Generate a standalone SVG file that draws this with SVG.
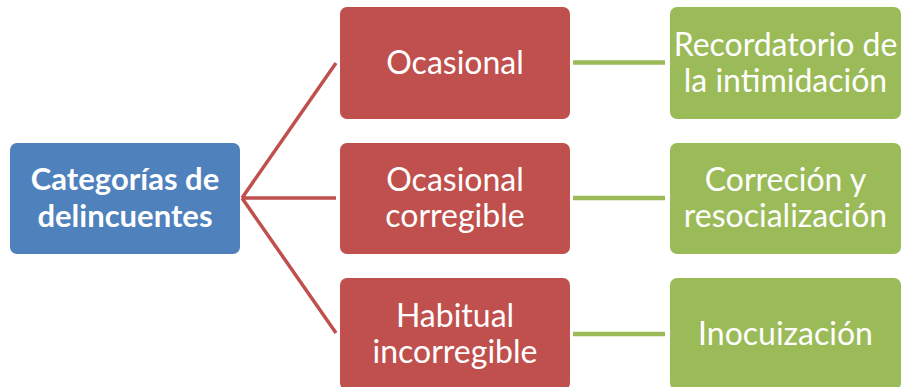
<svg xmlns="http://www.w3.org/2000/svg" width="901" height="387" viewBox="0 0 901 387">
<style>
.t{font-family:Lato,"Open Sans","Liberation Sans",sans-serif;font-size:32px;fill:#fff;text-anchor:middle}
.b{font-weight:bold;font-size:31px}
.red{stroke:#C0504D;stroke-width:3.5;fill:none}
.grn{stroke:#9BBB59;stroke-width:4.5;fill:none}
</style>
<rect width="901" height="387" fill="#fff"/>
<g id="connectors">
<path class="red" d="M242,198 L336,63 M242,198 L336,198 M242,198 L336,333"/>
<path class="grn" d="M573,62.5 L665,62.5 M573,198 L665,198 M573,334 L665,334"/>
</g>
<g id="root"><rect x="10" y="143" width="230" height="111" rx="7" fill="#4F81BD"/>
<text class="t b" x="125" y="190">Categorías de</text><text class="t b" x="125" y="227">delincuentes</text></g>
<g id="ocasional"><rect x="340" y="7" width="230" height="112" rx="7" fill="#C0504D"/>
<text class="t" x="455" y="74">Ocasional</text></g>
<g id="ocasional-corregible"><rect x="340" y="143" width="230" height="111" rx="7" fill="#C0504D"/>
<text class="t" x="455" y="191">Ocasional</text><text class="t" x="455" y="227">corregible</text></g>
<g id="habitual"><rect x="340" y="278" width="230" height="112" rx="7" fill="#C0504D"/>
<text class="t" x="455" y="327">Habitual</text><text class="t" x="455" y="363">incorregible</text></g>
<g id="recordatorio"><rect x="670" y="7" width="231" height="112" rx="7" fill="#9BBB59"/>
<text class="t" x="785.5" y="56">Recordatorio de</text><text class="t" x="785.5" y="92">la intimidación</text></g>
<g id="correcion"><rect x="670" y="143" width="231" height="111" rx="7" fill="#9BBB59"/>
<text class="t" x="785.5" y="191">Correción y</text><text class="t" x="785.5" y="227">resocialización</text></g>
<g id="inocuizacion"><rect x="670" y="278" width="231" height="112" rx="7" fill="#9BBB59"/>
<text class="t" x="785.5" y="345">Inocuización</text></g>
</svg>
